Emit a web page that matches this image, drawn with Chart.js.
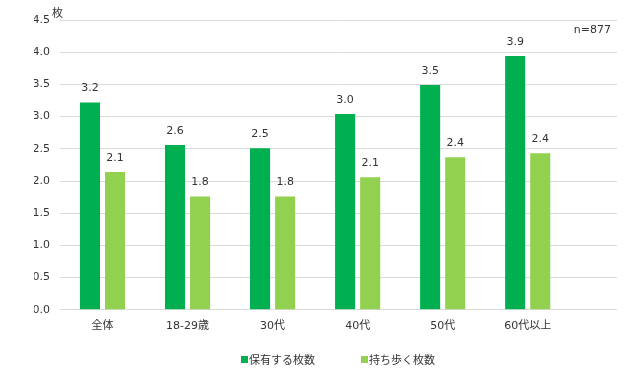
<!DOCTYPE html>
<html>
<head>
<meta charset="utf-8">
<script src="https://cdn.jsdelivr.net/npm/chart.js@4"></script>
<style>
  body { margin: 0; background: #fff; }
  .wrap { position: relative; width: 630px; height: 377px; }
  .legend { position: absolute; left: 241px; top: 351px; display: flex; font: 11px "DejaVu Sans", "Noto Sans CJK JP", sans-serif; color: #333; }
  .legend span.item { display: flex; align-items: center; margin-right: 46px; }
  .legend i { display: inline-block; width: 7px; height: 7px; margin-right: 1px; }
</style>
</head>
<body>
<div class="wrap">
  <canvas id="chart" width="630" height="377"></canvas>
  <div class="legend" id="legend"></div>
</div>
<script>
// categories + series
const categories  = ["全体", "18-29歳", "30代", "40代", "50代", "60代以上"];
const holdValues  = [3.22, 2.56, 2.51, 3.04, 3.49, 3.94];
const carryValues = [2.14, 1.76, 1.76, 2.06, 2.37, 2.43];
const seriesNames = ["保有する枚数", "持ち歩く枚数"];
const colors      = ["#00B050", "#92D050"];
const yTicks      = [0, 0.5, 1, 1.5, 2, 2.5, 3, 3.5, 4, 4.5];

const FONT = '"DejaVu Sans", "Noto Sans CJK JP", sans-serif';
const TEXT = "#333";

//-----------------------------------------------------------------------------
// value labels above each bar + unit / sample size notes
//-----------------------------------------------------------------------------
const valueLabels = {
    id: "valueLabels",
    afterDatasetsDraw(chart) {
        const ctx = chart.ctx;
        ctx.save();
        ctx.font = `11px ${FONT}`;
        ctx.fillStyle = TEXT;
        ctx.textAlign = "center";
        ctx.textBaseline = "middle";
        chart.data.datasets.forEach((ds, i) => {
            chart.getDatasetMeta(i).data.forEach((bar, j) => {
                ctx.fillText(ds.data[j].y.toFixed(1), bar.x, bar.y - 14);
            });
        });
        const area = chart.chartArea;
        ctx.textAlign = "left";
        ctx.fillText("枚", area.left - 8, area.top - 6);
        ctx.textAlign = "right";
        ctx.fillText("n=877", area.right - 6, area.top + 10);
        ctx.restore();
    }
};

const ctx = document.getElementById("chart").getContext("2d");
new Chart(ctx, {
    type: "bar",
    data: {
        datasets: [holdValues, carryValues].map((vals, i) => ({
            label: seriesNames[i],
            data: vals.map((v, j) => ({ x: j, y: v })),
            backgroundColor: colors[i],
            borderWidth: 0,
            categoryPercentage: 0.59,
            barPercentage: 0.8
        }))
    },
    options: {
        responsive: false,
        animation: false,
        layout: { padding: { top: 20, right: 13, left: 34, bottom: 34 } },
        plugins: {
            legend: { display: false },
            tooltip: { enabled: false }
        },
        scales: {
            x: {
                type: "linear",
                min: -0.5,
                max: 6.05,
                offset: false,
                grid: { display: false, drawTicks: false },
                border: { display: false },
                afterBuildTicks: s => { s.ticks = categories.map((_, i) => ({ value: i })); },
                ticks: {
                    callback: v => categories[v],
                    padding: 10,
                    maxRotation: 0,
                    autoSkip: false,
                    color: TEXT,
                    font: { family: FONT, size: 11 }
                }
            },
            y: {
                min: 0,
                max: 4.5,
                afterFit: s => { s.width = 26; },
                afterBuildTicks: s => { s.ticks = yTicks.map(v => ({ value: v })); },
                grid: { color: "#d9d9d9", drawTicks: false },
                border: { display: false },
                ticks: {
                    callback: v => v.toFixed(1),
                    padding: 10,
                    color: TEXT,
                    font: { family: FONT, size: 11 }
                }
            }
        }
    },
    plugins: [valueLabels]
});

// legend below the chart
const legend = document.getElementById("legend");
seriesNames.forEach((name, i) => {
    legend.insertAdjacentHTML("beforeend",
        `<span class="item"><i style="background:${colors[i]}"></i>${name}</span>`);
});
</script>
</body>
</html>
